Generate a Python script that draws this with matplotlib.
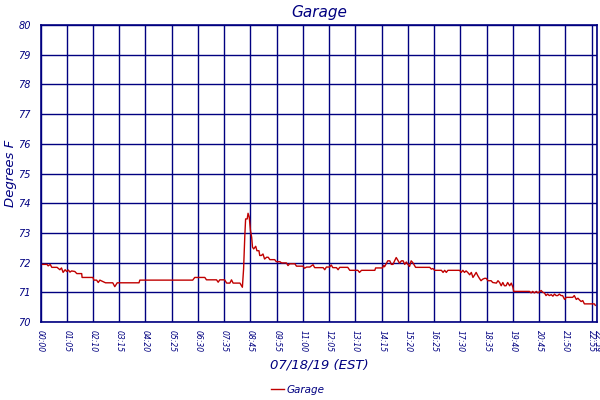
import matplotlib
matplotlib.use("Agg")
import matplotlib.pyplot as plt

# minutes after midnight, 07/18/19
minutes = [0, 16, 19, 24, 28, 41, 48, 52, 56, 61, 65, 69, 73, 77, 85, 90, 102, 103,
           130, 132, 139, 143, 147, 155, 161, 179, 184, 190, 244, 246, 377, 382, 407, 411,
           436, 440, 444, 456, 461, 469, 473, 477, 494, 498, 500, 503, 506, 508, 512, 514,
           517, 520, 523, 525, 528, 533, 536, 541, 543, 547, 551, 555, 560, 564, 568, 580,
           584, 593, 597, 609, 613, 617, 630, 634, 650, 654, 659, 667, 675, 679, 700, 704,
           708, 716, 720, 724, 733, 737, 741, 761, 766, 786, 790, 795, 828, 830, 847, 850,
           852, 857, 860, 865, 869, 873, 877, 881, 885, 889, 894, 898, 902, 906, 910, 914,
           918, 922, 929, 964, 968, 972, 976, 993, 997, 1001, 1005, 1009, 1038, 1042, 1046,
           1050, 1054, 1058, 1063, 1067, 1071, 1075, 1079, 1083, 1087, 1091, 1095, 1100,
           1104, 1108, 1116, 1120, 1129, 1133, 1137, 1141, 1145, 1149, 1153, 1157, 1162,
           1166, 1170, 1172, 1211, 1215, 1219, 1223, 1228, 1232, 1240, 1244, 1248, 1252,
           1256, 1260, 1265, 1269, 1273, 1277, 1281, 1285, 1289, 1293, 1298, 1302, 1318,
           1322, 1327, 1331, 1335, 1339, 1343, 1347, 1372, 1374]
garage = [71.94, 71.94, 71.89, 71.94, 71.84, 71.84, 71.76, 71.82, 71.67, 71.76, 71.70,
          71.75, 71.68, 71.72, 71.70, 71.63, 71.63, 71.50, 71.50, 71.41, 71.41, 71.33,
          71.41, 71.36, 71.32, 71.32, 71.19, 71.32, 71.32, 71.41, 71.41, 71.50, 71.50,
          71.42, 71.42, 71.34, 71.42, 71.42, 71.31, 71.31, 71.42, 71.31, 71.31, 71.22,
          71.17, 71.79, 72.90, 73.47, 73.47, 73.66, 73.53, 73.08, 72.85, 72.52, 72.46,
          72.55, 72.40, 72.40, 72.24, 72.24, 72.29, 72.12, 72.18, 72.18, 72.10, 72.10,
          72.03, 72.03, 71.99, 71.99, 71.90, 71.96, 71.96, 71.88, 71.88, 71.81, 71.85,
          71.85, 71.93, 71.83, 71.83, 71.76, 71.85, 71.85, 71.92, 71.83, 71.83, 71.76,
          71.84, 71.84, 71.74, 71.74, 71.67, 71.74, 71.74, 71.82, 71.82, 71.91, 71.86,
          71.98, 72.06, 72.06, 71.94, 71.94, 72.06, 72.17, 72.08, 71.98, 72.06, 72.06,
          71.94, 72.02, 71.94, 71.87, 72.06, 72.00, 71.84, 71.84, 71.78, 71.80, 71.74,
          71.74, 71.67, 71.74, 71.67, 71.74, 71.74, 71.67, 71.74, 71.67, 71.72, 71.67,
          71.59, 71.67, 71.50, 71.58, 71.67, 71.56, 71.47, 71.39, 71.44, 71.47, 71.47,
          71.39, 71.39, 71.33, 71.31, 71.39, 71.33, 71.22, 71.33, 71.22, 71.22, 71.33,
          71.22, 71.31, 71.17, 71.03, 71.03, 70.98, 71.03, 70.98, 71.03, 70.98, 71.06,
          71.00, 70.98, 70.89, 70.94, 70.89, 70.92, 70.87, 70.94, 70.89, 70.89, 70.94,
          70.89, 70.89, 70.76, 70.83, 70.83, 70.89, 70.76, 70.80, 70.74, 70.69, 70.72,
          70.61, 70.61, 70.56]

tick_minutes = [0, 65, 130, 195, 260, 325, 390, 455, 520, 585, 650, 715, 780, 845, 910,
                975, 1040, 1105, 1170, 1235, 1300, 1365, 1379]
tick_labels = ['00:00', '01:05', '02:10', '03:15', '04:20', '05:25', '06:30', '07:35',
               '08:45', '09:55', '11:00', '12:05', '13:10', '14:15', '15:20', '16:25',
               '17:30', '18:35', '19:40', '20:45', '21:50', '22:55', '22:59']
y_ticks = [70, 71, 72, 73, 74, 75, 76, 77, 78, 79, 80]

navy = '#000080'
plt.rcParams['font.family'] = ['DejaVu Sans']
plt.rcParams['font.style'] = 'italic'

fig = plt.figure(figsize=(6, 4), dpi=100)
ax = fig.add_axes([0.0675, 0.195, 0.928, 0.7425])

ax.plot(minutes, garage, color='#c00000', linewidth=1.0, label='Garage')

ax.set_xlim(0, 1379)
ax.set_ylim(70, 80)
ax.set_xticks(tick_minutes)
ax.set_xticklabels(tick_labels, rotation=-90, fontsize=5.5, color=navy)
ax.set_yticks(y_ticks)
ax.set_yticklabels([str(v) for v in y_ticks], fontsize=7, color=navy)
ax.tick_params(axis='both', length=0)
ax.tick_params(axis='y', pad=7)
ax.tick_params(axis='x', pad=6)
ax.grid(True, color=navy, linewidth=1.0)
for s in ax.spines.values():
    s.set_color(navy)
    s.set_linewidth(1.2)

ax.set_title('Garage', color=navy, fontsize=11, pad=6)
ax.set_ylabel('Degrees F', color=navy, fontsize=9.5, labelpad=1)
ax.set_xlabel('07/18/19 (EST)', color=navy, fontsize=9.5, labelpad=4)

leg = fig.legend(loc='lower center', bbox_to_anchor=(0.497, -0.01), frameon=False,
                 fontsize=7.5, handlelength=1.2, handletextpad=0.3)
for t in leg.get_texts():
    t.set_color(navy)

fig.savefig('out.png', dpi=100)
